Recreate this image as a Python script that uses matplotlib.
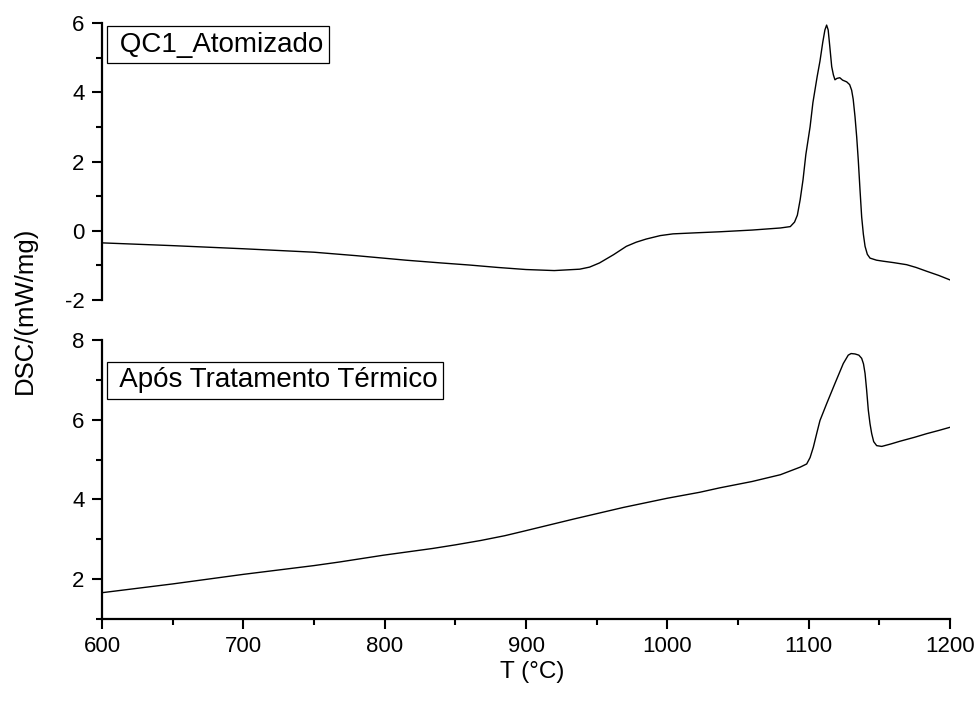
import numpy as np
import matplotlib
matplotlib.use("Agg")
import matplotlib.pyplot as plt
from matplotlib.ticker import MultipleLocator

plt.rcParams['font.family'] = ['Liberation Sans', 'DejaVu Sans']
plt.rcParams['axes.unicode_minus'] = False

# DSC trace, as-atomized powder
t_atom = [600, 650, 700, 750, 780, 815, 840, 860, 880, 900, 920, 938, 945, 952,
          962, 971, 978, 985, 995, 1004, 1020, 1037, 1060, 1080, 1087, 1090,
          1092, 1094, 1096, 1098, 1101, 1103, 1106, 1108, 1110, 1111.5, 1112.7,
          1113.8, 1115, 1116.3, 1117.5, 1118.6, 1120, 1122, 1124, 1126.9, 1129,
          1130.4, 1131.5, 1132.8, 1134, 1135.1, 1136.3, 1137.5, 1138.7, 1139.9,
          1141.5, 1143.4, 1148, 1152.8, 1160, 1169.3, 1176, 1183.5, 1192, 1200]
dsc_atom = [-0.35, -0.43, -0.52, -0.62, -0.72, -0.85, -0.93, -0.99, -1.06, -1.12,
            -1.15, -1.11, -1.05, -0.93, -0.69, -0.45, -0.33, -0.24, -0.14, -0.09,
            -0.06, -0.03, 0.02, 0.08, 0.12, 0.25, 0.45, 0.9, 1.47, 2.2, 3.0, 3.7,
            4.45, 4.9, 5.45, 5.8, 5.94, 5.8, 5.3, 4.74, 4.5, 4.36, 4.40, 4.42,
            4.35, 4.30, 4.22, 4.06, 3.8, 3.29, 2.7, 2.04, 1.2, 0.40, -0.1, -0.45,
            -0.68, -0.79, -0.85, -0.88, -0.92, -0.98, -1.06, -1.17, -1.29, -1.42]

# DSC trace after heat treatment
t_heat = [600, 650, 700, 750, 768, 799, 834, 850, 868, 885, 898, 934, 969, 1000,
          1023, 1037, 1060, 1080, 1094, 1098.6, 1101, 1103.3, 1106, 1108, 1112.7,
          1118.6, 1124.5, 1128, 1130, 1132.8, 1135.5, 1137.5, 1138.8, 1139.9,
          1141, 1142.2, 1143.4, 1144.6, 1146, 1148.1, 1151.7, 1158, 1164.6,
          1175, 1183.5, 1192, 1200]
dsc_heat = [1.66, 1.88, 2.12, 2.34, 2.43, 2.60, 2.77, 2.86, 2.97, 3.09, 3.20,
            3.51, 3.80, 4.03, 4.18, 4.29, 4.45, 4.62, 4.81, 4.89, 5.05, 5.31,
            5.7, 5.98, 6.40, 6.91, 7.41, 7.62, 7.66, 7.65, 7.62, 7.54, 7.4,
            7.16, 6.75, 6.24, 5.9, 5.65, 5.45, 5.35, 5.33, 5.39, 5.46, 5.56,
            5.65, 5.73, 5.81]

W, H = 977, 704
fig = plt.figure(figsize=(W / 100, H / 100), dpi=100)

left = 102 / W
width = (950 - 102) / W
ax1 = fig.add_axes([left, 1 - 300 / H, width, 277 / H])
ax2 = fig.add_axes([left, 1 - 619 / H, width, 279 / H])

ax1.plot(t_atom, dsc_atom, color='black', lw=1.0)
ax2.plot(t_heat, dsc_heat, color='black', lw=1.0)

for ax in (ax1, ax2):
    ax.set_xlim(600, 1200)
    ax.spines['top'].set_visible(False)
    ax.spines['right'].set_visible(False)
    ax.spines['left'].set_linewidth(1.6)
    ax.spines['bottom'].set_linewidth(1.6)
    ax.xaxis.set_major_locator(MultipleLocator(100))
    ax.xaxis.set_minor_locator(MultipleLocator(50))
    ax.yaxis.set_major_locator(MultipleLocator(2))
    ax.yaxis.set_minor_locator(MultipleLocator(1))
    ax.tick_params(which='major', direction='out', length=7.5, width=1.5,
                   labelsize=16, pad=5)
    ax.tick_params(which='minor', direction='out', length=4, width=1.5)
    ax.patch.set_alpha(0)

ax1.set_ylim(-2, 6)
ax1.spines['bottom'].set_visible(False)
ax1.tick_params(axis='x', which='both', bottom=False, labelbottom=False)

ax2.set_ylim(1, 8)

ax1.text(0.012, 0.922, ' QC1_Atomizado', transform=ax1.transAxes,
         fontsize=20, va='center', ha='left',
         bbox=dict(boxstyle='square,pad=0.2', fc='white', ec='black', lw=0.9))
ax2.text(0.013, 0.856, ' Após Tratamento Térmico', transform=ax2.transAxes,
         fontsize=20, va='center', ha='left',
         bbox=dict(boxstyle='square,pad=0.2', fc='white', ec='black', lw=0.9))

fig.text(532 / W, 1 - 672 / H, 'T (°C)', fontsize=17.5, ha='center', va='center')
fig.text(25 / W, 1 - 310 / H, 'DSC/(mW/mg)', fontsize=18.5, rotation=90,
         ha='center', va='center')

fig.savefig('out.png', dpi=100)
